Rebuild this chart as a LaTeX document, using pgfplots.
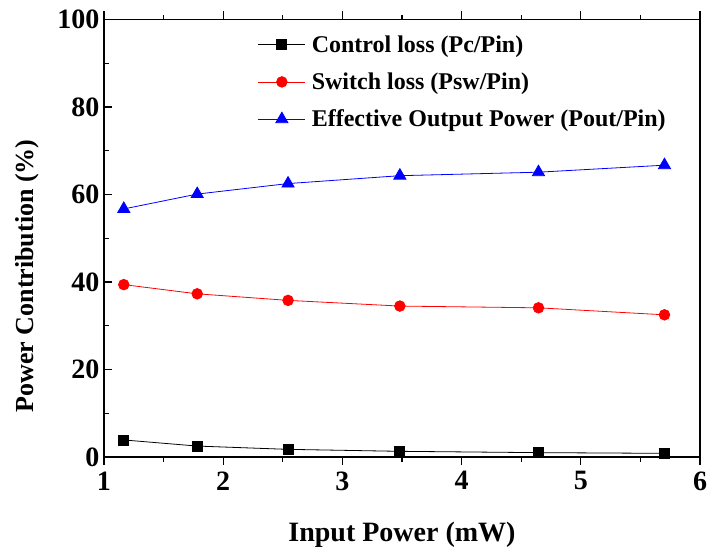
\documentclass[border=0pt]{standalone}
\usepackage{fontspec}
\setmainfont{Liberation Serif}
\usepackage{pgfplots}
\pgfplotsset{compat=1.18}
\begin{document}
\begin{tikzpicture}
\begin{axis}[
  name=ax,
  anchor=south west,
  scale only axis,
  width=596pt, height=437.5pt,
  xmin=1, xmax=6, ymin=0, ymax=100,
  xtick={1,2,3,4,5,6},
  ytick={0,20,40,60,80,100},
  minor xtick={1.5,2.5,3.5,4.5,5.5},
  minor ytick={10,30,50,70,90},
  xtick align=outside,
  ytick align=inside,
  xtick pos=both,
  ytick pos=left,
  major tick length=8pt,
  minor tick length=4.5pt,
  axis line style={line width=1.3pt},
  every tick/.style={black, line width=1.1pt},
  /pgf/number format/assume math mode=true,
  tick label style={font=\fontsize{28}{30}\selectfont\bfseries},
  xticklabel style={yshift=-3pt},
  yticklabel style={xshift=-1pt},
  xlabel={Input Power (mW)},
  ylabel={Power Contribution (\%)},
  xlabel style={font=\fontsize{28}{30}\selectfont\bfseries, at={(axis description cs:0.5,-0.178)}, anchor=center},
  ylabel style={font=\fontsize{26}{30}\selectfont\bfseries, at={(axis description cs:-0.129,0.414)}, anchor=center, rotate=0},
  legend style={at={(axis description cs:0.258,0.968)}, anchor=north west, draw=none, fill=none,
    inner sep=0pt, font=\fontsize{24}{28}\selectfont\bfseries, row sep=15pt},
  legend cell align=left,
  legend image code/.code={\draw[mark repeat=2,mark phase=2,#1] plot coordinates {(0pt,0pt) (23.5pt,0pt) (47pt,0pt)}; \path (51pt,0pt);},
]
\addplot[black, line width=0.8pt, mark=square*, mark size=5pt, mark options={solid}] coordinates {
(1.166,3.9) (1.782,2.5) (2.544,1.75) (3.482,1.3) (4.645,1.0) (5.702,0.84)};
\addlegendentry{Control loss (Pc/Pin)}
\addplot[red, line width=0.8pt, mark=*, mark size=5.3pt, mark options={solid}] coordinates {
(1.166,39.4) (1.782,37.3) (2.544,35.8) (3.482,34.5) (4.645,34.1) (5.702,32.5)};
\addlegendentry{Switch loss (Psw/Pin)}
\addplot[blue, line width=0.8pt, mark=triangle*, mark size=7pt, mark options={solid}] coordinates {
(1.166,56.7) (1.782,60.1) (2.544,62.5) (3.482,64.3) (4.645,65.1) (5.702,66.7)};
\addlegendentry{Effective Output Power (Pout/Pin)}
\end{axis}
\pgfresetboundingbox
\path ([xshift=-104pt,yshift=-95pt]ax.south west) rectangle ([xshift=9pt,yshift=19.5pt]ax.north east);
\end{tikzpicture}
\end{document}
